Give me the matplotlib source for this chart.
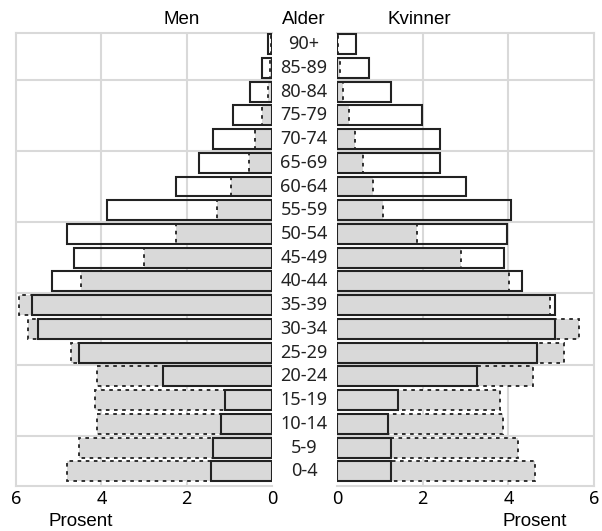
import numpy as np
import matplotlib.pyplot as plt
from matplotlib.transforms import blended_transform_factory

# age groups, bottom to top
ages = ['0-4', '5-9', '10-14', '15-19', '20-24', '25-29', '30-34', '35-39',
        '40-44', '45-49', '50-54', '55-59', '60-64', '65-69', '70-74',
        '75-79', '80-84', '85-89', '90+']

# percent
men_solid = [1.44, 1.39, 1.20, 1.10, 2.55, 4.52, 5.49, 5.63, 5.15, 4.64,
             4.80, 3.87, 2.26, 1.71, 1.39, 0.92, 0.52, 0.23, 0.10]
men_dashed = [4.81, 4.52, 4.09, 4.16, 4.11, 4.72, 5.71, 5.92, 4.48, 3.00,
              2.26, 1.30, 0.95, 0.55, 0.40, 0.23, 0.10, 0.04, 0.02]
women_solid = [1.26, 1.26, 1.18, 1.42, 3.28, 4.66, 5.10, 5.10, 4.31, 3.91,
               3.98, 4.06, 3.00, 2.40, 2.40, 1.98, 1.25, 0.75, 0.44]
women_dashed = [4.63, 4.23, 3.87, 3.81, 4.58, 5.30, 5.66, 4.97, 4.02, 2.89,
                1.86, 1.07, 0.83, 0.60, 0.42, 0.27, 0.15, 0.07, 0.03]

grid_c = '#d9d9d9'
grey = '#d9d9d9'
tick_font = 'Noto Sans'
label_font = 'Liberation Sans'

W, H = 602, 531
fig = plt.figure(figsize=(W / 100, H / 100), dpi=100)
top, bot = 33, 486
ax_m = fig.add_axes([16 / W, 1 - bot / H, 256 / W, (bot - top) / H])
ax_w = fig.add_axes([337 / W, 1 - bot / H, 257 / W, (bot - top) / H])

y = np.arange(len(ages))

for ax, solid, dashed, side in [(ax_m, men_solid, men_dashed, 'left'),
                                (ax_w, women_solid, women_dashed, 'right')]:
    ax.barh(y, dashed, height=0.84, color=grey, edgecolor='#222222',
            linewidth=1.3, linestyle=(0, (2, 2.5)), zorder=2)
    ax.barh(y, solid, height=0.84, fill=False, edgecolor='#222222',
            linewidth=1.5, zorder=3)
    ax.set_ylim(-0.62, 18.47)
    ax.set_yticks([])
    ax.set_xticks([0, 2, 4, 6])
    ax.tick_params(axis='x', length=0, pad=3, labelsize=13)
    for lab in ax.get_xticklabels():
        lab.set_family(tick_font)
    for v in [2, 4]:
        ax.axvline(v, color=grid_c, lw=1.5, zorder=1)
    for g in [1.5, 4.5, 7.5, 10.5, 13.5, 16.5]:
        ax.axhline(g, color=grid_c, lw=1.5, zorder=1)
    for s in ax.spines.values():
        s.set_color(grid_c)
        s.set_linewidth(1.5)

ax_m.set_xlim(6, 0)
ax_m.spines['right'].set_visible(False)
ax_w.set_xlim(0, 6)
ax_w.spines['left'].set_visible(False)

tr = blended_transform_factory(fig.transFigure, ax_m.transData)
for i, a in enumerate(ages):
    fig.text(304 / W, i, a, transform=tr, ha='center', va='center',
             fontsize=13, family=tick_font, color='#222222')

fig.text(182 / W, 1 - 20 / H, 'Men', ha='center', va='center',
         fontsize=13.5, family=label_font)
fig.text(304 / W, 1 - 20 / H, 'Alder', ha='center', va='center',
         fontsize=13.5, family=label_font)
fig.text(419 / W, 1 - 20 / H, 'Kvinner', ha='center', va='center',
         fontsize=13.5, family=label_font)
fig.text(81 / W, 1 - 521 / H, 'Prosent', ha='center', va='center',
         fontsize=13.5, family=label_font)
fig.text(535 / W, 1 - 521 / H, 'Prosent', ha='center', va='center',
         fontsize=13.5, family=label_font)

fig.savefig('out.png', dpi=100)
